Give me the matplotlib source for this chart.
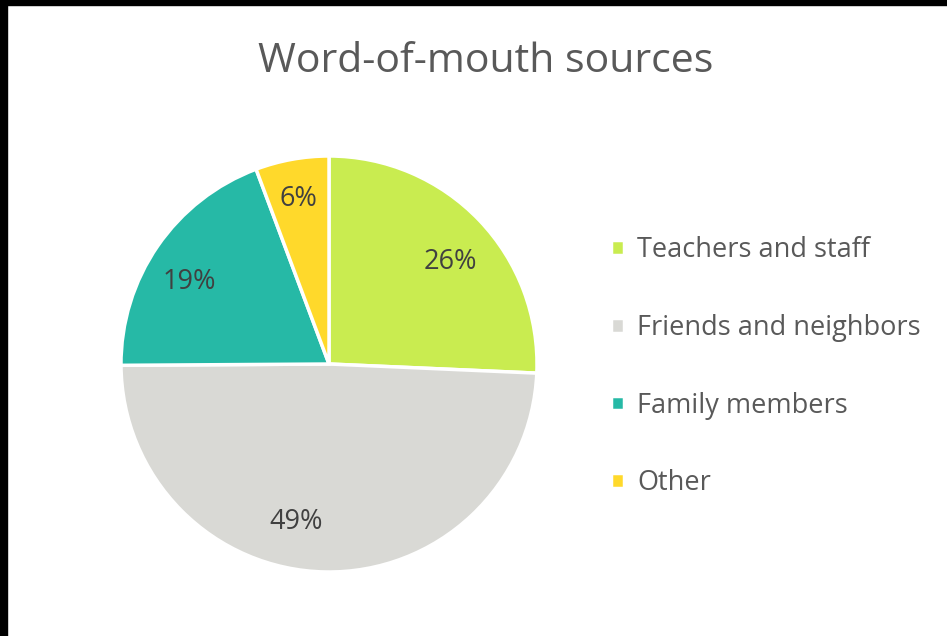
import matplotlib
matplotlib.use("Agg")
import matplotlib.pyplot as plt
from matplotlib.patches import Rectangle

categories = ["Teachers and staff", "Friends and neighbors", "Family members", "Other"]
values = [25.7, 49.2, 19.4, 5.7]
colors = ["#C9EC50", "#D9D9D5", "#26B9A6", "#FFD92B"]
title = "Word-of-mouth sources"

FONT = "Open Sans"
W, H = 947, 636
fig = plt.figure(figsize=(W / 100, H / 100), dpi=100)
fig.patch.set_facecolor("white")

cx, cy, r = 329, 364, 208
ax = fig.add_axes([(cx - r) / W, (H - cy - r) / H, 2 * r / W, 2 * r / H])
wedges, texts, autotexts = ax.pie(
    values, colors=colors, startangle=90, counterclock=False,
    autopct="%.0f%%", pctdistance=0.78,
    wedgeprops=dict(edgecolor="white", linewidth=2.5),
    textprops=dict(color="#404040", fontsize=19.5, family=FONT),
)
ax.set_xlim(-1, 1)
ax.set_ylim(-1, 1)
ax.set_aspect("equal")

# small placement nudges (pixels) mimicking the original label placement
nudges = [(4, -10), (-30, 4), (-6, -10), (-2, 5)]
for t, (dx, dy) in zip(autotexts, nudges):
    x, y = t.get_position()
    t.set_position((x + dx / r, y + dy / r))

fig.text(486 / W, 1 - 62 / H, title, ha="center", va="center",
         fontsize=29.5, color="#595959", family=FONT)

leg = fig.legend(wedges, categories, loc="upper left",
                 bbox_to_anchor=(587 / W, 1 - 212 / H),
                 frameon=False,
                 handlelength=0.45, handleheight=0.45, handletextpad=0.5,
                 labelspacing=1.83, prop=dict(family=FONT, size=19.5))
for t in leg.get_texts():
    t.set_color("#595959")

# black borders of the screenshot
fig.patches.append(Rectangle((0, 0), 7 / W, 1, transform=fig.transFigure,
                             color="black", zorder=10))
fig.patches.append(Rectangle((0, 1 - 5 / H), 1, 5 / H, transform=fig.transFigure,
                             color="black", zorder=10))

fig.savefig("out.png", dpi=100)
